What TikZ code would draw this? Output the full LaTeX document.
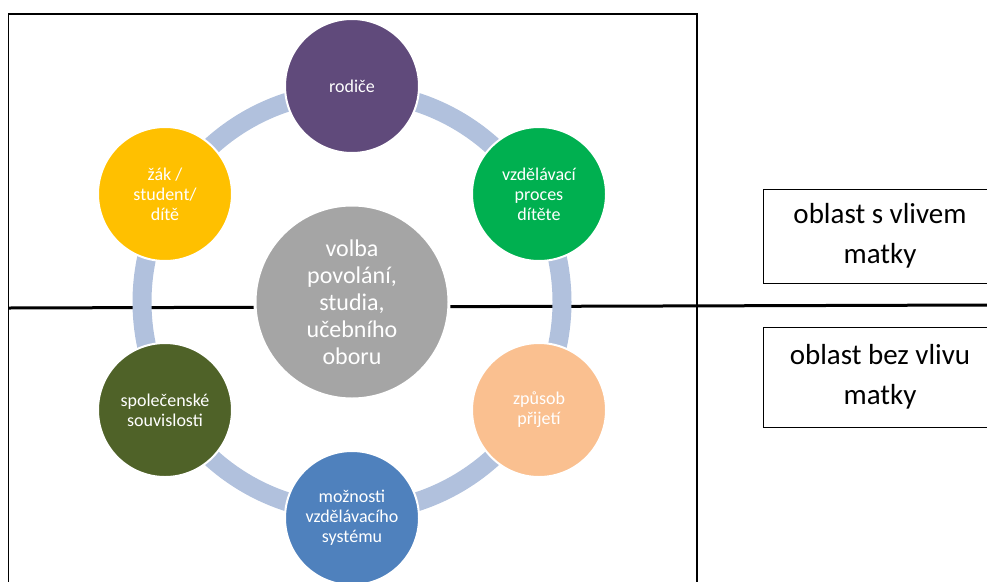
\documentclass[tikz,border=0pt]{standalone}
\usepackage{fontspec}
\setmainfont{Carlito}
\definecolor{ringblue}{HTML}{B1C1DD}
\definecolor{hubgray}{HTML}{A5A5A5}
\definecolor{parentpurple}{HTML}{604A7B}
\definecolor{processgreen}{HTML}{00B050}
\definecolor{admitpeach}{HTML}{FAC090}
\definecolor{systemblue}{HTML}{4F81BD}
\definecolor{societyolive}{HTML}{4F6228}
\definecolor{pupilyellow}{HTML}{FFC000}
\begin{document}
\begin{tikzpicture}[x=1pt,y=-1pt,
  factor/.style={circle, draw=white, line width=2pt, minimum size=134pt, inner sep=0pt,
    align=center, text=white, font=\fontsize{18}{20}\selectfont},
  hub/.style={circle, draw=white, line width=3pt, fill=hubgray, minimum size=194pt, inner sep=0pt,
    align=center, text=white, font=\fontsize{24}{27}\selectfont},
  areabox/.style={draw, line width=1pt, minimum width=234pt, inner sep=0pt,
    align=center, font=\fontsize{29}{40}\selectfont}]
  \useasboundingbox (0,0) rectangle (987,581);

  % frame round the diagram
  \draw[line width=1.5pt] (8.5,14) rectangle (697,600);

  % dividing line between the two areas
  \coordinate (divL) at (9,308);
  \coordinate (divR) at (987,305);
  \draw[line width=3pt] (divL) -- (divR);

  % ring and hub
  \coordinate (mid) at (352,302);
  \draw[ringblue, line width=19pt] (mid) circle (210);
  \node[hub] (volba) at (mid) {volba\\povolání,\\studia,\\učebního\\oboru};

  % the six factors
  \node[factor, fill=parentpurple] (rodice) at (352,86) {rodiče};
  \node[factor, fill=processgreen] (proces) at (539,194) {vzdělávací\\proces\\dítěte};
  \node[factor, fill=admitpeach] (prijeti) at (539,410) {způsob\\přijetí};
  \node[factor, fill=systemblue] (moznosti) at (352,518) {možnosti\\vzdělávacího\\systému};
  \node[factor, fill=societyolive] (spolecnost) at (165,410) {společenské\\souvislosti};
  \node[factor, fill=pupilyellow] (zak) at (165,194) {žák /\\student/\\dítě};

  % legend boxes
  \node[areabox, minimum height=94pt] (vliv) at (880,236) {oblast s vlivem\\matky};
  \node[areabox, minimum height=100pt] (bezvliv) at (880,377) {oblast bez vlivu\\matky};
\end{tikzpicture}
\end{document}
